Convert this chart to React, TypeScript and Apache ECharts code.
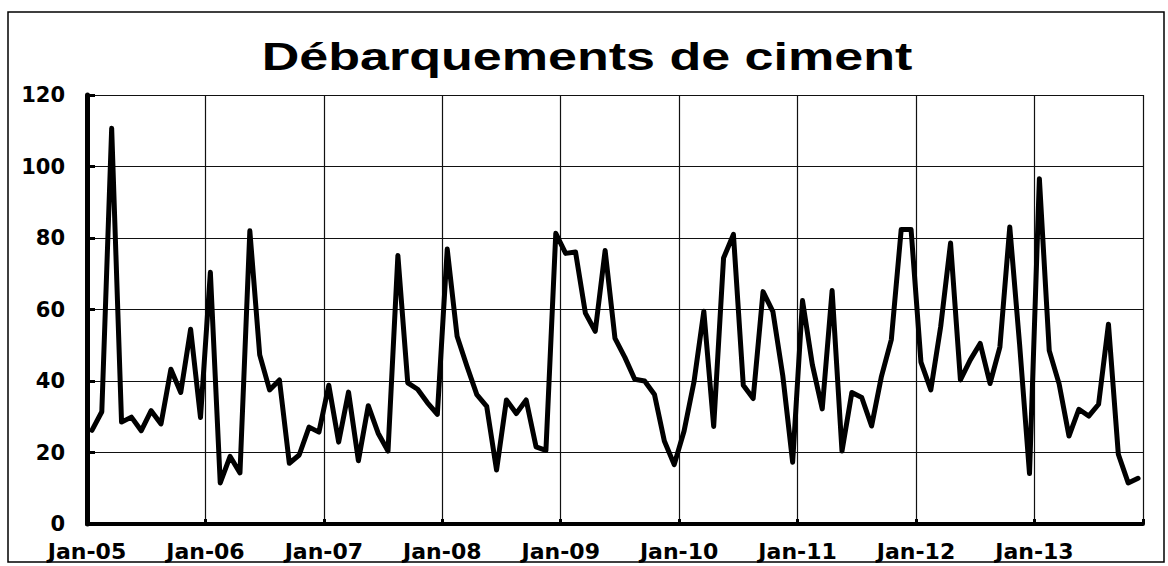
import React, { useEffect, useRef } from 'react';
import * as echarts from 'echarts';

const chartTitle = 'Débarquements de ciment';

// Yearly tick labels (one every 12 months, starting January 2005)
const yearLabels = ['Jan-05', 'Jan-06', 'Jan-07', 'Jan-08', 'Jan-09', 'Jan-10', 'Jan-11', 'Jan-12', 'Jan-13'];

// Monthly landings, Jan-2005 .. Nov-2013
const values2005 = [26.2, 31.4, 110.7, 28.5, 29.9, 26.1, 31.7, 28.0, 43.3, 36.8, 54.5, 29.8];
const values2006 = [70.4, 11.5, 18.9, 14.3, 82.0, 47.3, 37.5, 40.3, 17.0, 19.3, 27.1, 25.7];
const values2007 = [38.8, 22.9, 36.9, 17.7, 33.1, 25.4, 20.4, 75.1, 39.5, 37.7, 33.9, 30.7];
const values2008 = [76.9, 52.5, 44.1, 36.2, 32.9, 15.1, 34.7, 30.9, 34.7, 21.6, 20.6, 81.3];
const values2009 = [75.7, 76.1, 59.0, 53.9, 76.5, 51.9, 46.6, 40.5, 40.0, 36.2, 23.2, 16.6];
const values2010 = [26.0, 39.7, 59.5, 27.3, 74.4, 81.0, 38.8, 35.1, 65.0, 59.4, 41.5, 17.3];
const values2011 = [62.5, 44.5, 32.2, 65.3, 20.4, 36.8, 35.4, 27.4, 41.3, 51.6, 82.4, 82.4];
const values2012 = [45.3, 37.5, 55.2, 78.6, 40.3, 45.9, 50.5, 39.3, 49.5, 83.1, 50.1, 14.1];
const values2013 = [96.6, 48.5, 39.2, 24.6, 32.1, 30.2, 33.5, 55.9, 19.5, 11.5, 12.8];

const values = [
  ...values2005, ...values2006, ...values2007, ...values2008, ...values2009,
  ...values2010, ...values2011, ...values2012, ...values2013,
];

const yMin = 0;
const yMax = 120;
const yStep = 20;
const monthsPerYear = 12;

export default function App() {
  const ref = useRef<HTMLDivElement>(null);

  useEffect(() => {
    if (!ref.current) return;
    const chart = echarts.init(ref.current, null, { renderer: 'svg' });
    // each month sits in the middle of its slot
    const data = values.map((v, i) => [i + 0.5, v]);

    chart.setOption({
      animation: false,
      backgroundColor: '#ffffff',
      grid: { left: 87, right: 25, top: 95, bottom: 42, containLabel: false },
      xAxis: {
        type: 'value',
        min: 0,
        max: values.length,
        interval: monthsPerYear,
        axisLine: { show: true, onZero: false, lineStyle: { color: '#000', width: 4 } },
        axisTick: { show: true, inside: true, length: 5, lineStyle: { color: '#000', width: 3 } },
        axisLabel: {
          formatter: (v: number) => (v % monthsPerYear === 0 ? yearLabels[v / monthsPerYear] ?? '' : ''),
          fontFamily: '"DejaVu Sans", sans-serif',
          fontWeight: 'bold',
          fontSize: 22,
          color: '#000',
          margin: 16,
        },
        splitLine: { show: true, lineStyle: { color: '#111', width: 1.2 } },
      },
      yAxis: {
        type: 'value',
        min: yMin,
        max: yMax,
        interval: yStep,
        axisLine: { show: true, lineStyle: { color: '#000', width: 5 } },
        axisTick: { show: true, inside: true, length: 8, lineStyle: { color: '#000', width: 3 } },
        axisLabel: {
          fontFamily: '"DejaVu Sans", sans-serif',
          fontWeight: 'bold',
          fontSize: 21,
          color: '#000',
          margin: 22,
        },
        splitLine: { show: true, lineStyle: { color: '#111', width: 1.2 } },
      },
      series: [
        {
          type: 'line',
          data,
          symbol: 'none',
          showSymbol: false,
          lineStyle: { color: '#000', width: 5, join: 'round', cap: 'round' },
          z: 5,
        },
      ],
      graphic: [
        {
          type: 'rect',
          silent: true,
          shape: { x: 8, y: 12, width: 1156, height: 550 },
          style: { fill: 'none', stroke: '#000', lineWidth: 1.5 },
        },
        {
          type: 'text',
          x: 587,
          y: 57,
          scaleX: 1.37,
          silent: true,
          style: {
            text: chartTitle,
            font: 'bold 38px "Liberation Sans", Arial, sans-serif',
            fill: '#000',
            align: 'center',
            verticalAlign: 'middle',
          },
        },
      ],
    });

    return () => chart.dispose();
  }, []);

  return <div ref={ref} style={{ position: 'fixed', left: 0, top: 0, width: 1168, height: 566 }} />;
}
